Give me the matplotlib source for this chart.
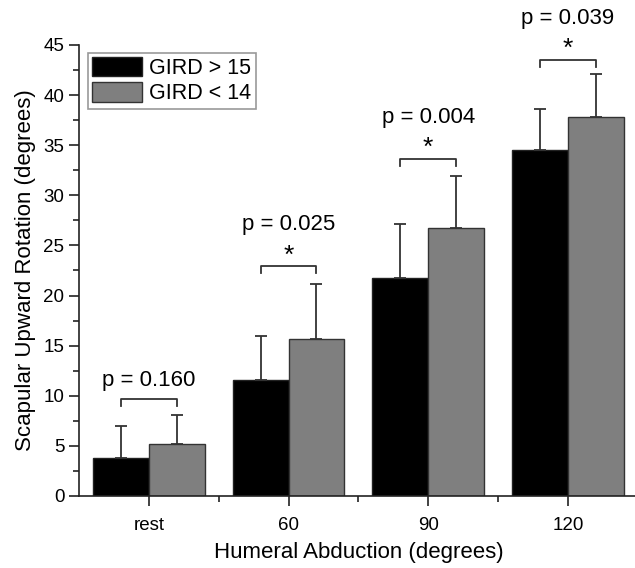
import numpy as np
import matplotlib.pyplot as plt
from matplotlib.ticker import MultipleLocator, FixedLocator

plt.rcParams['font.family'] = ['Liberation Sans', 'DejaVu Sans']

categories = ['rest', '60', '90', '120']
gird_high = [3.8, 11.6, 21.7, 34.5]
gird_high_sd = [3.2, 4.4, 5.4, 4.1]
gird_low = [5.15, 15.7, 26.7, 37.8]
gird_low_sd = [2.95, 5.5, 5.2, 4.3]
p_values = ['p = 0.160', 'p = 0.025', 'p = 0.004', 'p = 0.039']
significant = [False, True, True, True]
bracket_y = [9.65, 22.9, 33.6, 43.5]

fig = plt.figure(figsize=(6.35, 5.68), dpi=100)
ax = fig.add_axes([0.1244, 0.1268, 0.880, 0.794])

x = np.arange(len(categories))
w = 0.4
err_kw = dict(ecolor='#333333', elinewidth=1.3, capsize=4, capthick=1.3)
zeros = [0] * len(categories)
ax.bar(x - w / 2, gird_high, w, color='black', edgecolor='#222222', linewidth=1,
       yerr=[zeros, gird_high_sd], error_kw=err_kw, label='GIRD > 15')
ax.bar(x + w / 2, gird_low, w, color='#7f7f7f', edgecolor='#333333', linewidth=1,
       yerr=[zeros, gird_low_sd], error_kw=err_kw, label='GIRD < 14')

# significance brackets
for i in range(len(categories)):
    y = bracket_y[i]
    x0, x1 = x[i] - w / 2, x[i] + w / 2
    ax.plot([x0, x0, x1, x1], [y - 0.65, y, y, y - 0.65], color='#333333', lw=1.3,
            clip_on=False)
    if significant[i]:
        ax.text(x[i], y + 1.1, '*', ha='center', va='center', fontsize=19, clip_on=False)
        ax.text(x[i], y + 3.1, p_values[i], ha='center', va='bottom', fontsize=16,
                clip_on=False)
    else:
        ax.text(x[i], y + 0.8, p_values[i], ha='center', va='bottom', fontsize=16,
                clip_on=False)

ax.set_xlim(-0.5, 3.5)
ax.set_ylim(0, 45)
ax.set_xticks(x)
ax.set_xticklabels(categories)
ax.xaxis.set_minor_locator(FixedLocator([0.5, 1.5, 2.5]))
ax.yaxis.set_major_locator(MultipleLocator(5))
ax.yaxis.set_minor_locator(MultipleLocator(2.5))
ax.tick_params(axis='both', which='major', direction='out', length=7, width=1.2,
               labelsize=13.5, color='#222222')
ax.tick_params(axis='both', which='minor', direction='out', length=4, width=1.2,
               color='#222222')
ax.tick_params(axis='x', pad=8)

for s in ['top', 'right']:
    ax.spines[s].set_visible(False)
for s in ['left', 'bottom']:
    ax.spines[s].set_linewidth(1.2)
    ax.spines[s].set_color('#222222')

ax.set_xlabel('Humeral Abduction (degrees)', fontsize=16, labelpad=6)
ax.set_ylabel('Scapular Upward Rotation (degrees)', fontsize=16, labelpad=5)

leg = ax.legend(loc='upper left', bbox_to_anchor=(0.008, 0.992), fontsize=15.5,
                fancybox=False, framealpha=1, edgecolor='#999999',
                handlelength=2.3, handleheight=1.0, borderpad=0.2,
                labelspacing=0.15, handletextpad=0.35, borderaxespad=0.2)
leg.get_frame().set_linewidth(1.2)

fig.savefig('out.png', dpi=100)
